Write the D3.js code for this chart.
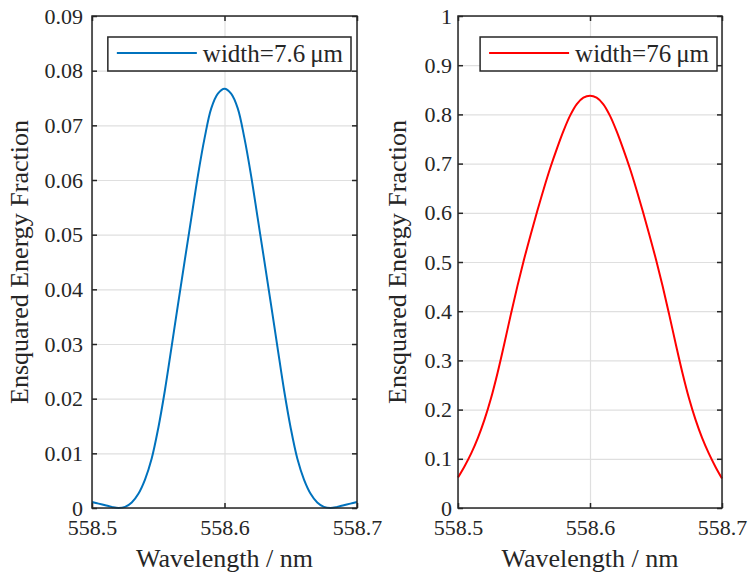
<!DOCTYPE html>
<html>
<head>
<meta charset="utf-8">
<script src="https://cdn.jsdelivr.net/npm/d3@7"></script>
<style>
  body { margin: 0; background: #fff; }
  svg { display: block; }
  svg text { font-family: "Liberation Serif", "DejaVu Serif", serif; }
</style>
</head>
<body>
<div id="chart"></div>
<script>
var svgWidth = 751;
var svgHeight = 576;
var fontStack = "'Liberation Serif', 'DejaVu Serif', serif";

// wavelength samples, nm
var wavelengths = [
    558.500, 558.505, 558.510, 558.515, 558.520, 558.525, 558.530, 558.535, 558.540, 558.545,
    558.550, 558.555, 558.560, 558.565, 558.570, 558.575, 558.580, 558.585, 558.590, 558.595,
    558.600, 558.605, 558.610, 558.615, 558.620, 558.625, 558.630, 558.635, 558.640, 558.645,
    558.650, 558.655, 558.660, 558.665, 558.670, 558.675, 558.680, 558.685, 558.690, 558.695,
    558.700
];

// ensquared energy, width = 7.6 um
var energyNarrow = [
    0.0011, 0.0008, 0.0005, 0.0002, 0.0000, 0.0002, 0.0010, 0.0026, 0.0052, 0.0090,
    0.0146, 0.0215, 0.0294, 0.0374, 0.0453, 0.0531, 0.0609, 0.0677, 0.0731, 0.0758,
    0.0767, 0.0758, 0.0731, 0.0677, 0.0609, 0.0531, 0.0453, 0.0374, 0.0294, 0.0215,
    0.0146, 0.0090, 0.0052, 0.0026, 0.0010, 0.0002, 0.0000, 0.0002, 0.0005, 0.0008,
    0.0011
];

// ensquared energy, width = 76 um
var energyWide = [
    0.062, 0.085, 0.111, 0.142, 0.179, 0.223, 0.275, 0.333, 0.393, 0.451,
    0.505, 0.555, 0.603, 0.649, 0.692, 0.731, 0.767, 0.798, 0.821, 0.834,
    0.838, 0.834, 0.821, 0.798, 0.767, 0.731, 0.692, 0.649, 0.603, 0.555,
    0.505, 0.451, 0.393, 0.333, 0.275, 0.223, 0.179, 0.142, 0.111, 0.084,
    0.060
];

var xTicks = [558.5, 558.6, 558.7];
var yTicksNarrow = [0, 0.01, 0.02, 0.03, 0.04, 0.05, 0.06, 0.07, 0.08, 0.09];
var yTicksWide = [0, 0.1, 0.2, 0.3, 0.4, 0.5, 0.6, 0.7, 0.8, 0.9, 1];

var legendNarrow = "width=7.6\u2009\u03bcm";
var legendWide = "width=76\u2009\u03bcm";

var xLabel = "Wavelength / nm";
var yLabel = "Ensquared Energy Fraction";

var svg = d3.select("#chart")
    .append("svg")
    .attr("width", svgWidth)
    .attr("height", svgHeight)
    .attr("font-family", fontStack);

function tickText(d) {
    return String(+d.toFixed(2));
}

function drawPanel(p) {
    var width = p.width;
    var height = p.height;

    var chartGroup = svg.append("g")
        .attr("transform", `translate(${p.left}, ${p.top})`);

    var xLinearScale = d3.scaleLinear()
        .domain([558.5, 558.7])
        .range([0, width]);

    var yLinearScale = d3.scaleLinear()
        .domain(p.yDomain)
        .range([height, 0]);

    // grid lines
    chartGroup.append("g")
        .attr("class", "grid")
        .call(d3.axisBottom(xLinearScale).tickValues(xTicks).tickSize(height).tickFormat(""))
        .call(g => g.select(".domain").remove())
        .selectAll("line")
        .attr("stroke", "#dfdfdf")
        .attr("stroke-width", 1.2);

    chartGroup.append("g")
        .attr("class", "grid")
        .call(d3.axisLeft(yLinearScale).tickValues(p.yTicks).tickSize(-width).tickFormat(""))
        .call(g => g.select(".domain").remove())
        .selectAll("line")
        .attr("stroke", "#dfdfdf")
        .attr("stroke-width", 1.2);

    // data line
    var line = d3.line()
        .x((d, i) => xLinearScale(wavelengths[i]))
        .y(d => yLinearScale(d))
        .curve(d3.curveCatmullRom);

    chartGroup.append("path")
        .datum(p.values)
        .attr("fill", "none")
        .attr("stroke", p.color)
        .attr("stroke-width", 2)
        .attr("d", line);

    // axes with inward ticks
    var bottomAxis = d3.axisBottom(xLinearScale)
        .tickValues(xTicks)
        .tickFormat(tickText)
        .tickSizeInner(-5)
        .tickSizeOuter(0)
        .tickPadding(11);

    var leftAxis = d3.axisLeft(yLinearScale)
        .tickValues(p.yTicks)
        .tickFormat(tickText)
        .tickSizeInner(-5)
        .tickSizeOuter(0)
        .tickPadding(p.yPad);

    chartGroup.append("g")
        .attr("transform", `translate(0, ${height})`)
        .call(bottomAxis)
        .attr("font-family", fontStack)
        .attr("font-size", 22);

    chartGroup.append("g")
        .call(leftAxis)
        .attr("font-family", fontStack)
        .attr("font-size", 22);

    chartGroup.append("g")
        .call(d3.axisTop(xLinearScale).tickValues(xTicks).tickFormat("").tickSizeInner(-5).tickSizeOuter(0));

    chartGroup.append("g")
        .attr("transform", `translate(${width}, 0)`)
        .call(d3.axisRight(yLinearScale).tickValues(p.yTicks).tickFormat("").tickSizeInner(-5).tickSizeOuter(0));

    chartGroup.selectAll(".domain").remove();
    chartGroup.selectAll(".tick text").attr("fill", "#262626");
    chartGroup.selectAll(".tick line").filter(function () {
        return this.parentNode.parentNode.getAttribute("class") !== "grid";
    })
        .attr("stroke", "#262626")
        .attr("stroke-width", 1.5);

    // box
    chartGroup.append("rect")
        .attr("width", width)
        .attr("height", height)
        .attr("fill", "none")
        .attr("stroke", "#262626")
        .attr("stroke-width", 1.5);

    // axis labels
    chartGroup.append("text")
        .attr("x", width / 2)
        .attr("y", height + 59)
        .attr("text-anchor", "middle")
        .attr("font-family", fontStack)
        .attr("font-size", 26)
        .attr("fill", "#262626")
        .text(xLabel);

    chartGroup.append("text")
        .attr("transform", "rotate(-90)")
        .attr("x", -height / 2)
        .attr("y", p.yLabelX - p.left)
        .attr("text-anchor", "middle")
        .attr("font-family", fontStack)
        .attr("font-size", 26)
        .attr("fill", "#262626")
        .text(yLabel);

    // legend
    var legendGroup = chartGroup.append("g");
    var legendBox = legendGroup.append("rect")
        .attr("fill", "#fff")
        .attr("stroke", "#262626")
        .attr("stroke-width", 1.5);
    var legendText = legendGroup.append("text")
        .attr("font-family", fontStack)
        .attr("font-size", 25)
        .attr("fill", "#262626")
        .text(p.legend);
    var tw = legendText.node().getComputedTextLength();
    var boxW = 9 + 80 + 6 + tw + 8;
    var boxX = width - p.legendRight - boxW;
    legendBox
        .attr("x", boxX)
        .attr("y", 21)
        .attr("width", boxW)
        .attr("height", 34);
    legendGroup.append("line")
        .attr("x1", boxX + 9)
        .attr("x2", boxX + 89)
        .attr("y1", 37)
        .attr("y2", 37)
        .attr("stroke", p.color)
        .attr("stroke-width", 2);
    legendText
        .attr("x", boxX + 95)
        .attr("y", 46);
}

drawPanel({
    left: 92, top: 16, width: 265, height: 492,
    yDomain: [0, 0.09], yTicks: yTicksNarrow, yPad: 9,
    values: energyNarrow, color: "#0072bd",
    legend: legendNarrow, legendRight: 6, yLabelX: 28
});

drawPanel({
    left: 458, top: 16, width: 264, height: 492,
    yDomain: [0, 1], yTicks: yTicksWide, yPad: 6,
    values: energyWide, color: "#ff0000",
    legend: legendWide, legendRight: 5, yLabelX: 406
});
</script>
</body>
</html>
